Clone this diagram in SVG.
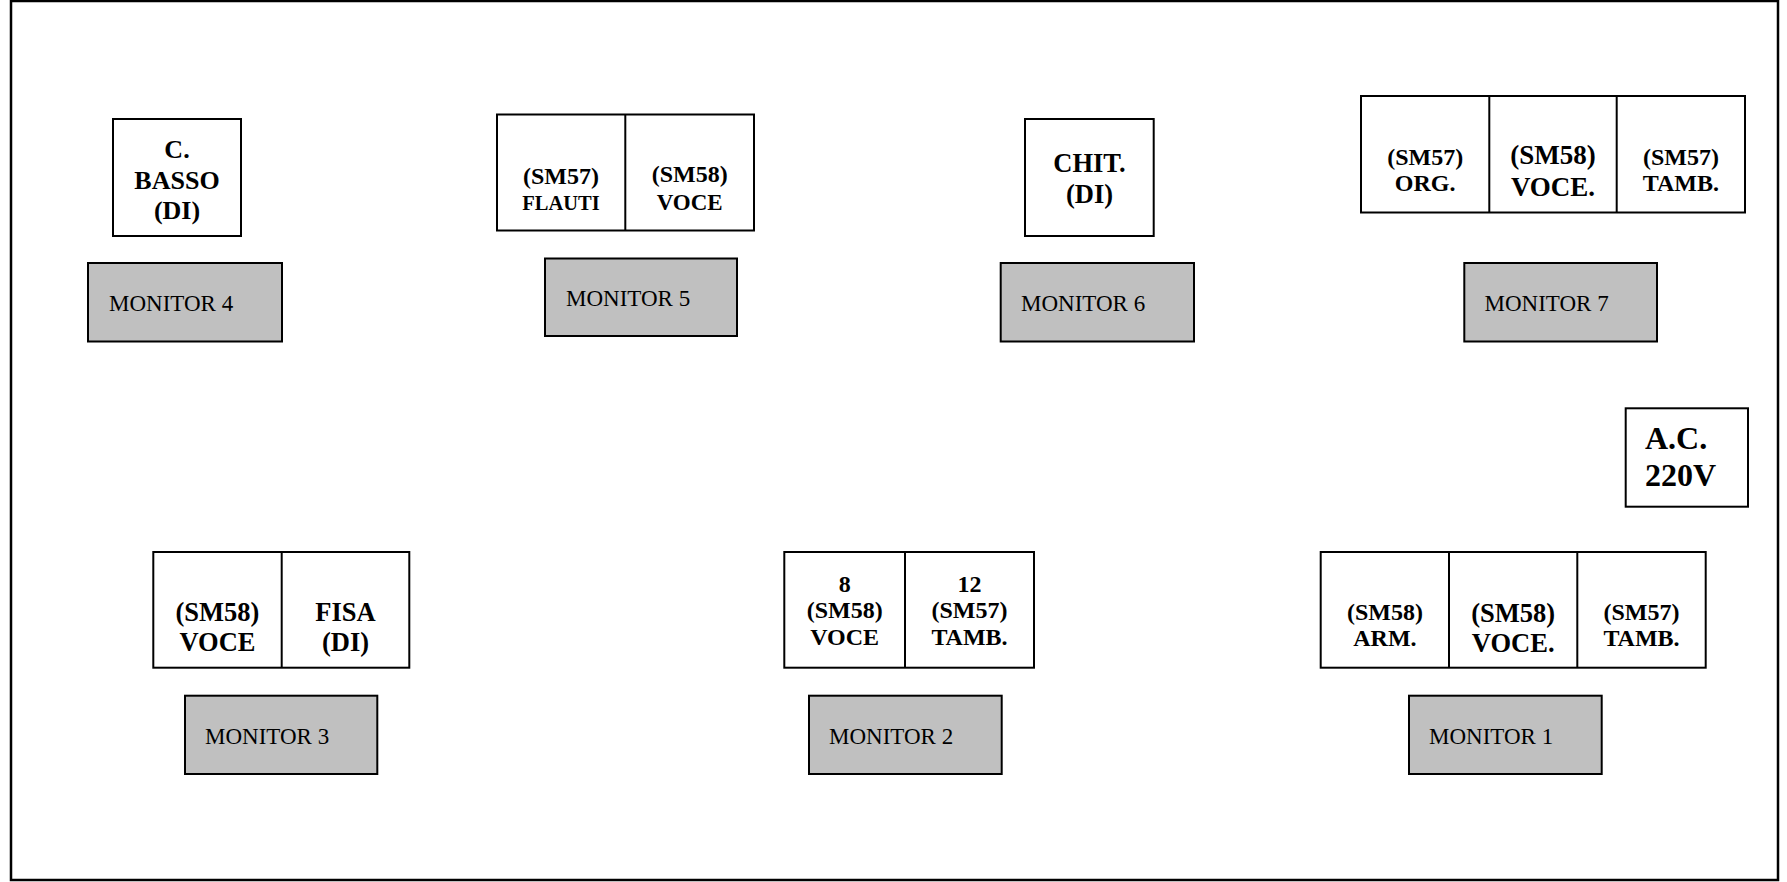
<svg xmlns="http://www.w3.org/2000/svg" width="1787" height="882" viewBox="0 0 1787 882">
<style>
.frame{fill:#fff;stroke:#000;stroke-width:2.5}
.box{fill:#fff;stroke:#000;stroke-width:2}
.mon{fill:#c0c0c0;stroke:#000;stroke-width:2}
.div{stroke:#000;stroke-width:2}
.b{font-family:"Liberation Serif","Times New Roman",serif;font-weight:bold;fill:#000;text-anchor:middle}
.bl{font-family:"Liberation Serif","Times New Roman",serif;font-weight:bold;fill:#000;text-anchor:start}
.m{font-family:"Liberation Serif","Times New Roman",serif;font-size:23px;fill:#000}
</style>
<rect x="0" y="0" width="1787" height="882" fill="#fff"/>
<rect class="frame" x="11" y="1" width="1767" height="879"/>

<g id="mic-cbasso">
<rect class="box" x="113" y="119" width="128" height="117"/>
<text class="b" font-size="26" x="177" y="158">C.</text>
<text class="b" font-size="26" x="177" y="188.5">BASSO</text>
<text class="b" font-size="26" x="177" y="219">(DI)</text>
</g>
<g id="monitor4">
<rect class="mon" x="88" y="263" width="194" height="78.5"/>
<text class="m" x="109" y="311">MONITOR 4</text>
</g>

<g id="mic-flauti-voce">
<rect class="box" x="497" y="114.5" width="257" height="116"/>
<line class="div" x1="625.3" y1="114.5" x2="625.3" y2="230.5"/>
<text class="b" font-size="24" x="561" y="184">(SM57)</text>
<text class="b" font-size="20.5" x="561" y="210">FLAUTI</text>
<text class="b" font-size="24" x="689.7" y="182">(SM58)</text>
<text class="b" font-size="23" x="689.7" y="209.5">VOCE</text>
</g>
<g id="monitor5">
<rect class="mon" x="545" y="258.5" width="192" height="77.5"/>
<text class="m" x="566" y="306">MONITOR 5</text>
</g>

<g id="mic-chit">
<rect class="box" x="1025" y="119" width="128.7" height="117"/>
<text class="b" font-size="26.5" x="1089.5" y="172">CHIT.</text>
<text class="b" font-size="26.5" x="1089.5" y="203">(DI)</text>
</g>
<g id="monitor6">
<rect class="mon" x="1000.7" y="263" width="193.3" height="78.5"/>
<text class="m" x="1021" y="311">MONITOR 6</text>
</g>

<g id="mic-org-voce-tamb">
<rect class="box" x="1361" y="96" width="384" height="116.5"/>
<line class="div" x1="1489.3" y1="96" x2="1489.3" y2="212.5"/>
<line class="div" x1="1616.7" y1="96" x2="1616.7" y2="212.5"/>
<text class="b" font-size="24" x="1425.2" y="164.5">(SM57)</text>
<text class="b" font-size="24" x="1425.2" y="191">ORG.</text>
<text class="b" font-size="27" x="1553" y="163.5">(SM58)</text>
<text class="b" font-size="27" x="1553" y="195.5">VOCE.</text>
<text class="b" font-size="24" x="1680.9" y="164.5">(SM57)</text>
<text class="b" font-size="24" x="1680.9" y="191">TAMB.</text>
</g>
<g id="monitor7">
<rect class="mon" x="1464.3" y="263" width="192.7" height="78.5"/>
<text class="m" x="1484.5" y="311">MONITOR 7</text>
</g>

<g id="ac220">
<rect class="box" x="1625.7" y="408.3" width="122.3" height="98.4"/>
<text class="bl" font-size="32" x="1645" y="448.5">A.C.</text>
<text class="bl" font-size="32" x="1645" y="486">220V</text>
</g>

<g id="mic-voce-fisa">
<rect class="box" x="153.3" y="552" width="256" height="115.7"/>
<line class="div" x1="281.7" y1="552" x2="281.7" y2="667.7"/>
<text class="b" font-size="26.5" x="217.5" y="620.5">(SM58)</text>
<text class="b" font-size="26.5" x="217.5" y="650.5">VOCE</text>
<text class="b" font-size="26.5" x="345.5" y="621">FISA</text>
<text class="b" font-size="26.5" x="345.5" y="650.5">(DI)</text>
</g>
<g id="monitor3">
<rect class="mon" x="185" y="695.7" width="192.3" height="78.3"/>
<text class="m" x="205" y="744">MONITOR 3</text>
</g>

<g id="mic-8-12">
<rect class="box" x="784.3" y="552" width="249.7" height="115.7"/>
<line class="div" x1="905" y1="552" x2="905" y2="667.7"/>
<text class="b" font-size="24" x="844.7" y="592">8</text>
<text class="b" font-size="24" x="844.7" y="617.5">(SM58)</text>
<text class="b" font-size="24" x="844.7" y="645">VOCE</text>
<text class="b" font-size="24" x="969.5" y="592">12</text>
<text class="b" font-size="24" x="969.5" y="617.5">(SM57)</text>
<text class="b" font-size="24" x="969.5" y="645">TAMB.</text>
</g>
<g id="monitor2">
<rect class="mon" x="809" y="695.7" width="192.7" height="78.3"/>
<text class="m" x="829" y="743.5">MONITOR 2</text>
</g>

<g id="mic-arm-voce-tamb">
<rect class="box" x="1320.7" y="552" width="385" height="115.7"/>
<line class="div" x1="1449" y1="552" x2="1449" y2="667.7"/>
<line class="div" x1="1577.3" y1="552" x2="1577.3" y2="667.7"/>
<text class="b" font-size="24" x="1384.9" y="620">(SM58)</text>
<text class="b" font-size="24" x="1384.9" y="646">ARM.</text>
<text class="b" font-size="26.5" x="1513.2" y="621.5">(SM58)</text>
<text class="b" font-size="26.5" x="1513.2" y="652">VOCE.</text>
<text class="b" font-size="24" x="1641.5" y="620">(SM57)</text>
<text class="b" font-size="24" x="1641.5" y="646">TAMB.</text>
</g>
<g id="monitor1">
<rect class="mon" x="1409" y="695.7" width="192.7" height="78.3"/>
<text class="m" x="1429" y="743.5">MONITOR 1</text>
</g>

<g id="connectors"></g>
</svg>
